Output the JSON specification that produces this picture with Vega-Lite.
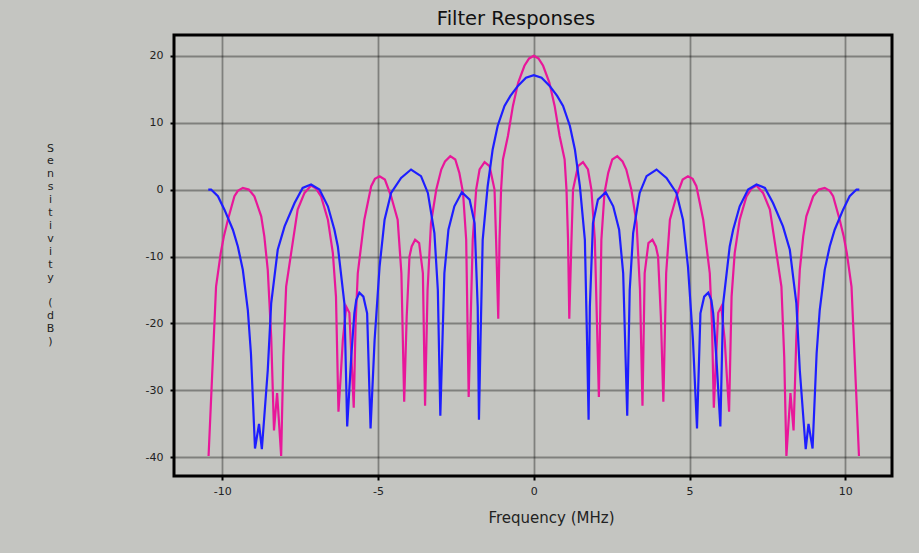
{
"$schema": "https://vega.github.io/schema/vega-lite/v6.json",
"width": 718, "height": 441,
"autosize": {"type": "none"},
"padding": {"left": 174, "top": 35, "right": 27, "bottom": 77},
"background": "#c4c5c1",
"title": {"text": "Filter Responses", "font": "DejaVu Sans", "fontSize": 19.5, "fontWeight": "normal", "color": "#111111", "anchor": "middle", "dx": -17, "offset": 6},
"config": {
  "view": {"stroke": "#000000", "strokeWidth": 3},
  "axis": {"domain": false, "grid": true, "gridColor": "#000000", "gridOpacity": 0.35, "gridWidth": 1.8, "ticks": true, "tickColor": "#000000", "tickSize": 4, "tickWidth": 2, "labelFont": "DejaVu Sans", "labelFontSize": 11, "labelColor": "#222222", "labelExpr": "'' + datum.value", "titleFont": "DejaVu Sans", "titleFontWeight": "normal", "titleColor": "#222222"}
},
"datasets": {
"curves": [
{"s":"m","f":-10.44,"db":-39.8},{"s":"m","f":-10.2,"db":-14.5},{"s":"m","f":-10.05,"db":-9.5},{"s":"m","f":-9.95,"db":-7},{"s":"m","f":-9.82,"db":-4.5},{"s":"m","f":-9.61,"db":-1},{"s":"m","f":-9.5,"db":-0.2},{"s":"m","f":-9.34,"db":0.25},{"s":"m","f":-9.15,"db":0},{"s":"m","f":-8.97,"db":-1},{"s":"m","f":-8.75,"db":-4},{"s":"m","f":-8.65,"db":-7},{"s":"m","f":-8.54,"db":-12},{"s":"m","f":-8.43,"db":-22},{"s":"m","f":-8.34,"db":-36},{"s":"m","f":-8.24,"db":-30.4},{"s":"m","f":-8.11,"db":-39.8},{"s":"m","f":-8.04,"db":-25},{"s":"m","f":-7.95,"db":-14.5},{"s":"m","f":-7.79,"db":-9.5},{"s":"m","f":-7.58,"db":-3},{"s":"m","f":-7.36,"db":-0.5},{"s":"m","f":-7.15,"db":0.6},{"s":"m","f":-7.0,"db":0.2},{"s":"m","f":-6.83,"db":-1},{"s":"m","f":-6.61,"db":-4.5},{"s":"m","f":-6.45,"db":-9.5},{"s":"m","f":-6.35,"db":-16},{"s":"m","f":-6.27,"db":-33.2},{"s":"m","f":-6.2,"db":-28},{"s":"m","f":-6.13,"db":-22.5},{"s":"m","f":-6.02,"db":-17.5},{"s":"m","f":-5.92,"db":-18.4},{"s":"m","f":-5.78,"db":-32.6},{"s":"m","f":-5.72,"db":-20},{"s":"m","f":-5.65,"db":-12.5},{"s":"m","f":-5.44,"db":-4.5},{"s":"m","f":-5.22,"db":0.5},{"s":"m","f":-5.1,"db":1.6},{"s":"m","f":-4.95,"db":2.0},{"s":"m","f":-4.78,"db":1.5},{"s":"m","f":-4.58,"db":-1},{"s":"m","f":-4.37,"db":-4.5},{"s":"m","f":-4.25,"db":-12.5},{"s":"m","f":-4.16,"db":-31.7},{"s":"m","f":-4.08,"db":-19},{"s":"m","f":-3.99,"db":-10},{"s":"m","f":-3.92,"db":-8.5},{"s":"m","f":-3.81,"db":-7.5},{"s":"m","f":-3.68,"db":-8},{"s":"m","f":-3.56,"db":-12.5},{"s":"m","f":-3.49,"db":-32.3},{"s":"m","f":-3.41,"db":-15},{"s":"m","f":-3.3,"db":-5},{"s":"m","f":-3.13,"db":0},{"s":"m","f":-2.97,"db":3.0},{"s":"m","f":-2.85,"db":4.2},{"s":"m","f":-2.68,"db":5.0},{"s":"m","f":-2.52,"db":4.5},{"s":"m","f":-2.39,"db":2.5},{"s":"m","f":-2.27,"db":-0.5},{"s":"m","f":-2.17,"db":-7.5},{"s":"m","f":-2.09,"db":-31},{"s":"m","f":-1.96,"db":-7.5},{"s":"m","f":-1.85,"db":0},{"s":"m","f":-1.74,"db":3.0},{"s":"m","f":-1.58,"db":4.1},{"s":"m","f":-1.42,"db":3.5},{"s":"m","f":-1.26,"db":0},{"s":"m","f":-1.21,"db":-7.5},{"s":"m","f":-1.14,"db":-19.3},{"s":"m","f":-1.1,"db":-7.5},{"s":"m","f":-1.05,"db":0},{"s":"m","f":-0.99,"db":4.5},{"s":"m","f":-0.83,"db":8},{"s":"m","f":-0.67,"db":12.5},{"s":"m","f":-0.5,"db":16},{"s":"m","f":-0.3,"db":18.5},{"s":"m","f":-0.15,"db":19.6},
{"s":"m","f":0,"db":20},
{"s":"m","f":0.15,"db":19.6},{"s":"m","f":0.3,"db":18.5},{"s":"m","f":0.5,"db":16},{"s":"m","f":0.67,"db":12.5},{"s":"m","f":0.83,"db":8},{"s":"m","f":0.99,"db":4.5},{"s":"m","f":1.05,"db":0},{"s":"m","f":1.1,"db":-7.5},{"s":"m","f":1.14,"db":-19.3},{"s":"m","f":1.21,"db":-7.5},{"s":"m","f":1.26,"db":0},{"s":"m","f":1.42,"db":3.5},{"s":"m","f":1.58,"db":4.1},{"s":"m","f":1.74,"db":3.0},{"s":"m","f":1.85,"db":0},{"s":"m","f":1.96,"db":-7.5},{"s":"m","f":2.09,"db":-31},{"s":"m","f":2.17,"db":-7.5},{"s":"m","f":2.27,"db":-0.5},{"s":"m","f":2.39,"db":2.5},{"s":"m","f":2.52,"db":4.5},{"s":"m","f":2.68,"db":5.0},{"s":"m","f":2.85,"db":4.2},{"s":"m","f":2.97,"db":3.0},{"s":"m","f":3.13,"db":0},{"s":"m","f":3.3,"db":-5},{"s":"m","f":3.41,"db":-15},{"s":"m","f":3.49,"db":-32.3},{"s":"m","f":3.56,"db":-12.5},{"s":"m","f":3.68,"db":-8},{"s":"m","f":3.81,"db":-7.5},{"s":"m","f":3.92,"db":-8.5},{"s":"m","f":3.99,"db":-10},{"s":"m","f":4.08,"db":-19},{"s":"m","f":4.16,"db":-31.7},{"s":"m","f":4.25,"db":-12.5},{"s":"m","f":4.37,"db":-4.5},{"s":"m","f":4.58,"db":-1},{"s":"m","f":4.78,"db":1.5},{"s":"m","f":4.95,"db":2.0},{"s":"m","f":5.1,"db":1.6},{"s":"m","f":5.22,"db":0.5},{"s":"m","f":5.44,"db":-4.5},{"s":"m","f":5.65,"db":-12.5},{"s":"m","f":5.72,"db":-20},{"s":"m","f":5.78,"db":-32.6},{"s":"m","f":5.92,"db":-18.4},{"s":"m","f":6.02,"db":-17.5},{"s":"m","f":6.13,"db":-22.5},{"s":"m","f":6.2,"db":-28},{"s":"m","f":6.27,"db":-33.2},{"s":"m","f":6.35,"db":-16},{"s":"m","f":6.45,"db":-9.5},{"s":"m","f":6.61,"db":-4.5},{"s":"m","f":6.83,"db":-1},{"s":"m","f":7.0,"db":0.2},{"s":"m","f":7.15,"db":0.6},{"s":"m","f":7.36,"db":-0.5},{"s":"m","f":7.58,"db":-3},{"s":"m","f":7.79,"db":-9.5},{"s":"m","f":7.95,"db":-14.5},{"s":"m","f":8.04,"db":-25},{"s":"m","f":8.11,"db":-39.8},{"s":"m","f":8.24,"db":-30.4},{"s":"m","f":8.34,"db":-36},{"s":"m","f":8.43,"db":-22},{"s":"m","f":8.54,"db":-12},{"s":"m","f":8.65,"db":-7},{"s":"m","f":8.75,"db":-4},{"s":"m","f":8.97,"db":-1},{"s":"m","f":9.15,"db":0},{"s":"m","f":9.34,"db":0.25},{"s":"m","f":9.5,"db":-0.2},{"s":"m","f":9.61,"db":-1},{"s":"m","f":9.82,"db":-4.5},{"s":"m","f":9.95,"db":-7},{"s":"m","f":10.05,"db":-9.5},{"s":"m","f":10.2,"db":-14.5},{"s":"m","f":10.44,"db":-39.8},
{"s":"b","f":-10.45,"db":0},{"s":"b","f":-10.36,"db":0},{"s":"b","f":-10.14,"db":-1},{"s":"b","f":-9.93,"db":-3},{"s":"b","f":-9.66,"db":-6},{"s":"b","f":-9.5,"db":-8.5},{"s":"b","f":-9.34,"db":-12},{"s":"b","f":-9.18,"db":-18},{"s":"b","f":-9.08,"db":-24.5},{"s":"b","f":-8.95,"db":-38.7},{"s":"b","f":-8.82,"db":-35},{"s":"b","f":-8.73,"db":-38.8},{"s":"b","f":-8.54,"db":-27},{"s":"b","f":-8.43,"db":-17},{"s":"b","f":-8.22,"db":-9},{"s":"b","f":-8.0,"db":-5.5},{"s":"b","f":-7.68,"db":-2},{"s":"b","f":-7.42,"db":0.25},{"s":"b","f":-7.15,"db":0.75},{"s":"b","f":-6.88,"db":0},{"s":"b","f":-6.61,"db":-2.5},{"s":"b","f":-6.4,"db":-6},{"s":"b","f":-6.29,"db":-8.5},{"s":"b","f":-6.08,"db":-17},{"s":"b","f":-5.99,"db":-35.4},{"s":"b","f":-5.86,"db":-25},{"s":"b","f":-5.76,"db":-18.5},{"s":"b","f":-5.7,"db":-16.5},{"s":"b","f":-5.6,"db":-15.4},{"s":"b","f":-5.47,"db":-16},{"s":"b","f":-5.35,"db":-18.5},{"s":"b","f":-5.24,"db":-35.7},{"s":"b","f":-5.11,"db":-22.5},{"s":"b","f":-4.95,"db":-11.5},{"s":"b","f":-4.79,"db":-4.5},{"s":"b","f":-4.58,"db":-0.5},{"s":"b","f":-4.26,"db":1.75},{"s":"b","f":-3.94,"db":3.0},{"s":"b","f":-3.62,"db":2},{"s":"b","f":-3.4,"db":-0.5},{"s":"b","f":-3.19,"db":-6.5},{"s":"b","f":-3.08,"db":-15},{"s":"b","f":-3.0,"db":-33.8},{"s":"b","f":-2.87,"db":-12.5},{"s":"b","f":-2.74,"db":-6},{"s":"b","f":-2.55,"db":-2.5},{"s":"b","f":-2.31,"db":-0.4},{"s":"b","f":-2.06,"db":-1.5},{"s":"b","f":-1.9,"db":-5},{"s":"b","f":-1.8,"db":-17.5},{"s":"b","f":-1.76,"db":-34.4},{"s":"b","f":-1.71,"db":-22.5},{"s":"b","f":-1.64,"db":-7.5},{"s":"b","f":-1.48,"db":0.5},{"s":"b","f":-1.32,"db":6},{"s":"b","f":-1.16,"db":9.5},{"s":"b","f":-0.94,"db":12.5},{"s":"b","f":-0.75,"db":14},{"s":"b","f":-0.51,"db":15.5},{"s":"b","f":-0.25,"db":16.7},
{"s":"b","f":0,"db":17.1},
{"s":"b","f":0.25,"db":16.7},{"s":"b","f":0.51,"db":15.5},{"s":"b","f":0.75,"db":14},{"s":"b","f":0.94,"db":12.5},{"s":"b","f":1.16,"db":9.5},{"s":"b","f":1.32,"db":6},{"s":"b","f":1.48,"db":0.5},{"s":"b","f":1.64,"db":-7.5},{"s":"b","f":1.71,"db":-22.5},{"s":"b","f":1.76,"db":-34.4},{"s":"b","f":1.8,"db":-17.5},{"s":"b","f":1.9,"db":-5},{"s":"b","f":2.06,"db":-1.5},{"s":"b","f":2.31,"db":-0.4},{"s":"b","f":2.55,"db":-2.5},{"s":"b","f":2.74,"db":-6},{"s":"b","f":2.87,"db":-12.5},{"s":"b","f":3.0,"db":-33.8},{"s":"b","f":3.08,"db":-15},{"s":"b","f":3.19,"db":-6.5},{"s":"b","f":3.4,"db":-0.5},{"s":"b","f":3.62,"db":2},{"s":"b","f":3.94,"db":3.0},{"s":"b","f":4.26,"db":1.75},{"s":"b","f":4.58,"db":-0.5},{"s":"b","f":4.79,"db":-4.5},{"s":"b","f":4.95,"db":-11.5},{"s":"b","f":5.11,"db":-22.5},{"s":"b","f":5.24,"db":-35.7},{"s":"b","f":5.35,"db":-18.5},{"s":"b","f":5.47,"db":-16},{"s":"b","f":5.6,"db":-15.4},{"s":"b","f":5.7,"db":-16.5},{"s":"b","f":5.76,"db":-18.5},{"s":"b","f":5.86,"db":-25},{"s":"b","f":5.99,"db":-35.4},{"s":"b","f":6.08,"db":-17},{"s":"b","f":6.29,"db":-8.5},{"s":"b","f":6.4,"db":-6},{"s":"b","f":6.61,"db":-2.5},{"s":"b","f":6.88,"db":0},{"s":"b","f":7.15,"db":0.75},{"s":"b","f":7.42,"db":0.25},{"s":"b","f":7.68,"db":-2},{"s":"b","f":8.0,"db":-5.5},{"s":"b","f":8.22,"db":-9},{"s":"b","f":8.43,"db":-17},{"s":"b","f":8.54,"db":-27},{"s":"b","f":8.73,"db":-38.8},{"s":"b","f":8.82,"db":-35},{"s":"b","f":8.95,"db":-38.7},{"s":"b","f":9.08,"db":-24.5},{"s":"b","f":9.18,"db":-18},{"s":"b","f":9.34,"db":-12},{"s":"b","f":9.5,"db":-8.5},{"s":"b","f":9.66,"db":-6},{"s":"b","f":9.93,"db":-3},{"s":"b","f":10.14,"db":-1},{"s":"b","f":10.36,"db":0},{"s":"b","f":10.45,"db":0}
]
},
"data": {"name": "curves"},
"mark": {"type": "line", "strokeWidth": 2.2, "clip": true},
"encoding": {
  "x": {"field": "f", "type": "quantitative", "scale": {"domain": [-11.55, 11.5], "nice": false, "zero": false},
        "axis": {"values": [-10, -5, 0, 5, 10], "title": "Frequency (MHz)", "titleFontSize": 15, "titleX": 377, "titleY": 46, "titleAlign": "center", "titleBaseline": "alphabetic", "labelPadding": 5}},
  "y": {"field": "db", "type": "quantitative", "scale": {"domain": [-42.8, 23.1], "nice": false, "zero": false},
        "axis": {"values": [-40, -30, -20, -10, 0, 10, 20], "title": ["S","e","n","s","i","t","i","v","i","t","y","\u2800","(","d","B",")"], "titleFontSize": 11, "titleLineHeight": 12.9, "titleAngle": 0, "titleX": -124, "titleY": 107, "titleAlign": "center", "titleBaseline": "top", "labelPadding": 7}},
  "color": {"field": "s", "type": "nominal", "scale": {"domain": ["m", "b"], "range": ["#e8179a", "#1e1eff"]}, "legend": null},
  "order": {"field": "f", "type": "quantitative"}
}
}
